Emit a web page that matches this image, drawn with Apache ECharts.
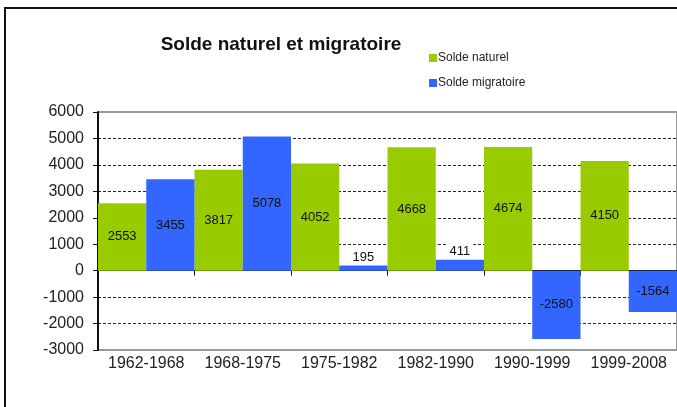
<!DOCTYPE html>
<html>
<head>
<meta charset="utf-8">
<script src="https://cdn.jsdelivr.net/npm/echarts@6/dist/echarts.min.js"></script>
<style>
  html, body { margin: 0; padding: 0; background: #fff; }
  #chart { width: 677px; height: 407px; }
  #frame {
    position: absolute; left: 4px; top: 7px; right: -2px; bottom: -2px;
    border-left: 2px solid #111; border-top: 2px solid #111;
    pointer-events: none;
  }
</style>
</head>
<body>
<div id="chart"></div>
<div id="frame"></div>
<script>
const periods = ['1962-1968', '1968-1975', '1975-1982', '1982-1990', '1990-1999', '1999-2008']
const soldeNaturel = [2553, 3817, 4052, 4668, 4674, 4150]
const soldeMigratoire = [3455, 5078, 195, 411, -2580, -1564]
const yTicks = { min: -3000, max: 6000, step: 1000 }

const chart = echarts.init(document.getElementById('chart'))

// small bars get their label above the bar on a white box, like the original
function withLabels(values) {
  return values.map((v) => {
    const small = Math.abs(v) < 600
    return {
      value: v,
      label: small
        ? { position: 'top', distance: 1, backgroundColor: '#fff', padding: [1, 3] }
        : { position: 'inside' }
    }
  })
}

const labelStyle = {
  show: true,
  color: '#111',
  fontSize: 13,
  fontFamily: 'Liberation Sans, Arial, sans-serif'
}

chart.setOption({
  animation: false,
  textStyle: { fontFamily: 'Liberation Sans, Arial, sans-serif' },
  title: {
    text: 'Solde naturel et migratoire',
    left: 276,
    textAlign: 'center',
    top: 30,
    textStyle: { fontSize: 19, fontWeight: 'bold', color: '#111' }
  },
  legend: {
    orient: 'vertical',
    left: 424,
    top: 47,
    icon: 'rect',
    itemWidth: 8,
    itemHeight: 8,
    itemGap: 13,
    textStyle: { fontSize: 12, color: '#222', padding: [0, 0, 0, -4] }
  },
  grid: {
    left: 98,
    right: -3,
    top: 112,
    bottom: 57,
    show: true,
    borderColor: '#999',
    borderWidth: 2
  },
  xAxis: [
    {
      type: 'category',
      data: periods,
      position: 'bottom',
      axisLine: { onZero: false, show: false },
      axisTick: { show: false },
      axisLabel: { color: '#222', fontSize: 16, margin: 6, interval: 0 }
    },
    {
      type: 'category',
      data: periods,
      position: 'bottom',
      axisLine: { onZero: true, lineStyle: { color: '#111', width: 1 } },
      axisTick: { show: true, length: 5, lineStyle: { color: '#111' } },
      axisLabel: { show: false }
    }
  ],
  yAxis: {
    type: 'value',
    min: yTicks.min,
    max: yTicks.max,
    interval: yTicks.step,
    axisLine: { show: true, lineStyle: { color: '#111', width: 2 } },
    axisTick: { show: true, length: 5, lineStyle: { color: '#111' } },
    axisLabel: { color: '#222', fontSize: 16, margin: 14, formatter: (v) => String(v) },
    splitLine: {
      show: true,
      showMinLine: false,
      showMaxLine: false,
      lineStyle: { color: '#222', type: [3, 2], width: 1 }
    }
  },
  series: [
    {
      name: 'Solde naturel',
      type: 'bar',
      data: withLabels(soldeNaturel),
      barGap: '0%',
      barCategoryGap: '0%',
      itemStyle: { color: '#99cc00' },
      label: labelStyle
    },
    {
      name: 'Solde migratoire',
      type: 'bar',
      data: withLabels(soldeMigratoire),
      barGap: '0%',
      barCategoryGap: '0%',
      itemStyle: { color: '#3366ff' },
      label: labelStyle
    }
  ]
})
</script>
</body>
</html>
